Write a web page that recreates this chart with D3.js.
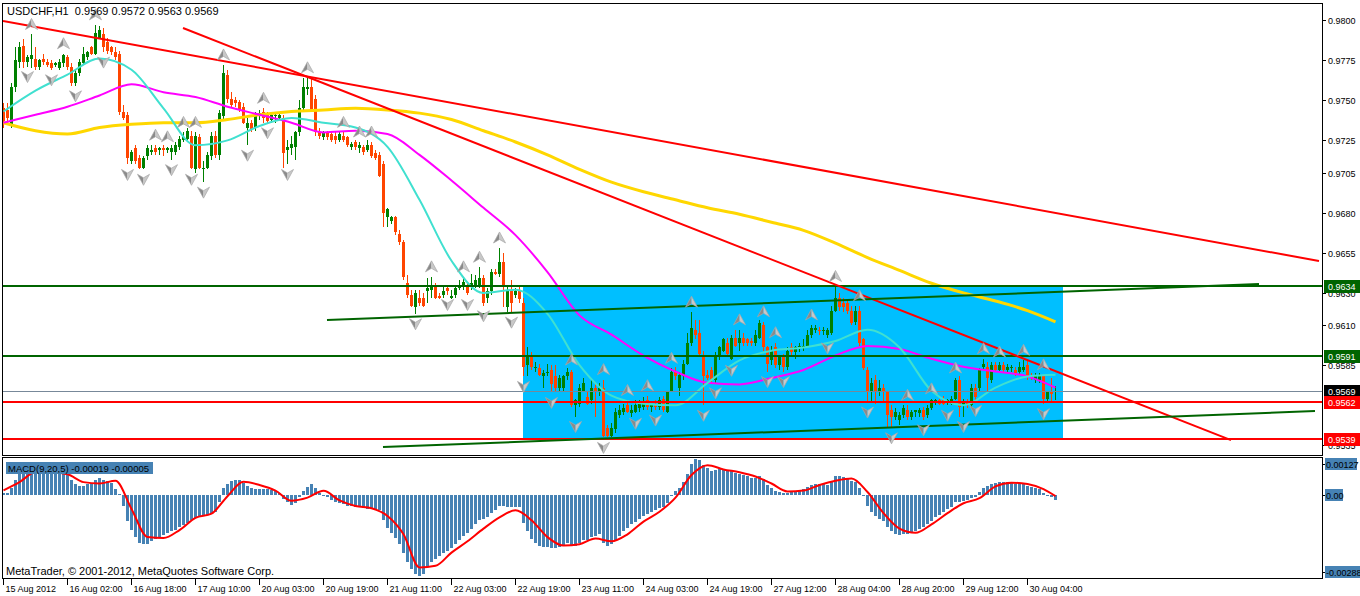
<!DOCTYPE html>
<html><head><meta charset="utf-8">
<script src="https://cdn.jsdelivr.net/npm/d3@7/dist/d3.min.js"></script>
<style>
body{margin:0;background:#fff;}
svg{display:block;font-family:"Liberation Sans",Arial,sans-serif;}
text{white-space:pre;}
</style></head><body>
<svg id="c" width="1360" height="596"></svg>
<script>
// ---------- DATA (prices in pips: 9745 = 0.9745) ----------
const open=[9745,9744,9735,9758,9774,9784,9774,9776,9776,9771,
9776,9774,9773,9772,9770,9773,9777,9771,9761,9767,
9773,9777,9783,9779,9789,9791,9786,9783,9780,9779,
9743,9741,9712,9720,9714,9708,9715,9718,9720,9719,
9720,9719,9718,9718,9721,9725,9726,9728,9707,9727,
9707,9708,9715,9728,9716,9740,9766,9751,9750,9749,
9746,9733,9736,9733,9740,9743,9741,9738,9740,9739,
9739,9719,9720,9721,9730,9745,9757,9758,9751,9730,
9727,9730,9729,9728,9725,9728,9727,9721,9724,9720,
9721,9719,9722,9717,9716,9710,9677,9675,9677,9667,
9662,9636,9629,9621,9627,9627,9631,9632,9635,9628,
9629,9633,9627,9629,9633,9634,9634,9634,9635,9635,
9639,9627,9631,9643,9642,9649,9621,9632,9629,9632,
9624,9585,9591,9583,9583,9578,9580,9582,9578,9571,
9571,9578,9581,9560,9561,9569,9565,9563,9571,9568,
9571,9546,9541,9545,9554,9556,9560,9555,9556,9558,
9559,9563,9559,9561,9559,9564,9556,9569,9581,9571,
9578,9586,9599,9607,9605,9591,9579,9582,9576,9590,
9594,9599,9589,9602,9599,9602,9601,9600,9599,9602,
9610,9596,9588,9596,9585,9590,9584,9596,9593,9596,
9596,9597,9604,9607,9607,9606,9604,9605,9619,9627,
9624,9624,9619,9612,9619,9601,9582,9569,9576,9569,
9571,9568,9557,9553,9551,9554,9557,9553,9556,9555,
9557,9554,9558,9562,9563,9564,9562,9561,9564,9576,
9560,9562,9560,9571,9571,9584,9584,9576,9585,9582,
9585,9582,9583,9582,9581,9582,9585,9578,9576,9576,
9578,9564,9569,9569];
const high=[9748,9748,9761,9783,9786,9788,9778,9791,9783,9776,
9779,9776,9775,9774,9776,9779,9778,9773,9769,9776,
9783,9781,9784,9797,9796,9795,9789,9784,9783,9781,
9747,9743,9719,9722,9716,9715,9722,9722,9722,9721,
9722,9721,9722,9724,9728,9730,9733,9731,9730,9729,
9712,9718,9730,9731,9744,9772,9769,9755,9752,9750,
9748,9739,9738,9743,9744,9745,9743,9742,9742,9743,
9741,9725,9728,9731,9750,9764,9764,9763,9753,9733,
9731,9731,9731,9730,9730,9730,9728,9724,9725,9724,
9722,9725,9724,9719,9718,9712,9683,9678,9678,9669,
9663,9641,9632,9632,9632,9630,9639,9640,9636,9630,
9635,9635,9632,9635,9638,9640,9636,9642,9641,9646,
9641,9633,9645,9645,9658,9655,9634,9638,9633,9634,
9627,9596,9593,9587,9586,9582,9586,9585,9585,9579,
9579,9583,9582,9564,9573,9577,9568,9576,9574,9574,
9576,9548,9549,9558,9560,9561,9563,9560,9563,9563,
9565,9566,9561,9563,9565,9566,9569,9583,9584,9581,
9588,9605,9618,9613,9613,9594,9582,9584,9593,9597,
9602,9602,9604,9607,9607,9605,9602,9602,9607,9613,
9612,9597,9597,9599,9591,9592,9596,9599,9597,9599,
9601,9607,9610,9610,9609,9609,9608,9622,9634,9630,
9627,9626,9622,9622,9622,9602,9584,9577,9579,9576,
9573,9569,9560,9558,9556,9560,9560,9557,9557,9558,
9559,9560,9564,9564,9564,9566,9564,9566,9577,9578,
9564,9564,9573,9573,9583,9589,9587,9587,9587,9587,
9587,9586,9585,9584,9587,9588,9588,9580,9580,9580,
9579,9569,9577,9572];
const low=[9733,9736,9733,9755,9770,9770,9771,9770,9769,9769,
9772,9771,9769,9771,9769,9771,9769,9759,9759,9765,
9772,9775,9778,9778,9788,9780,9779,9778,9775,9741,
9738,9710,9710,9710,9707,9707,9713,9716,9716,9716,
9715,9717,9713,9716,9719,9724,9725,9707,9705,9707,
9699,9707,9713,9714,9713,9738,9748,9745,9746,9743,
9735,9722,9730,9731,9738,9736,9736,9736,9736,9738,
9708,9710,9716,9713,9728,9744,9753,9743,9728,9726,
9725,9725,9724,9723,9724,9724,9721,9719,9719,9717,
9716,9718,9714,9713,9702,9671,9671,9673,9666,9660,
9638,9627,9621,9617,9622,9621,9624,9627,9626,9626,
9627,9629,9626,9627,9632,9632,9629,9632,9633,9633,
9622,9624,9629,9641,9640,9621,9618,9618,9627,9624,
9578,9578,9582,9581,9578,9571,9578,9568,9569,9569,
9568,9576,9559,9553,9559,9568,9560,9561,9553,9566,
9540,9540,9540,9543,9552,9554,9555,9553,9555,9556,
9557,9557,9556,9557,9557,9556,9555,9568,9576,9566,
9576,9585,9597,9601,9591,9560,9576,9573,9574,9588,
9593,9591,9588,9596,9594,9597,9597,9597,9597,9601,
9594,9581,9585,9583,9582,9581,9582,9591,9589,9593,
9594,9596,9602,9605,9604,9604,9602,9604,9618,9619,
9618,9617,9610,9610,9597,9582,9562,9562,9561,9566,
9562,9546,9546,9551,9548,9552,9551,9551,9553,9553,
9551,9552,9557,9560,9560,9560,9560,9560,9563,9553,
9553,9558,9559,9563,9569,9582,9568,9574,9581,9581,
9581,9581,9581,9578,9579,9581,9576,9576,9574,9574,
9561,9562,9562,9563];
const close=[9737,9739,9758,9775,9783,9774,9777,9778,9771,9775,
9774,9772,9770,9773,9774,9778,9771,9761,9767,9774,
9779,9780,9779,9792,9794,9783,9781,9780,9777,9743,
9739,9714,9718,9712,9708,9714,9720,9719,9718,9720,
9719,9720,9720,9722,9726,9727,9731,9708,9728,9708,
9708,9716,9728,9716,9742,9767,9751,9747,9748,9744,
9736,9736,9732,9741,9742,9739,9737,9741,9741,9741,
9717,9721,9723,9730,9745,9758,9758,9744,9730,9728,
9730,9727,9725,9725,9729,9725,9722,9723,9721,9722,
9718,9722,9715,9714,9703,9680,9682,9677,9668,9662,
9640,9629,9622,9630,9624,9622,9633,9635,9627,9627,
9631,9631,9628,9633,9635,9637,9630,9636,9638,9639,
9624,9631,9643,9642,9649,9635,9632,9624,9631,9626,
9584,9590,9584,9584,9579,9580,9581,9573,9571,9577,
9578,9581,9560,9563,9571,9574,9561,9571,9568,9571,
9541,9541,9546,9556,9557,9558,9556,9557,9560,9561,
9562,9559,9560,9559,9563,9557,9568,9581,9578,9579,
9586,9599,9608,9604,9592,9578,9577,9576,9591,9596,
9601,9592,9602,9597,9602,9599,9599,9599,9604,9611,
9596,9586,9594,9585,9590,9584,9594,9593,9596,9597,
9597,9604,9608,9608,9606,9607,9607,9619,9627,9621,
9621,9619,9611,9619,9599,9583,9569,9574,9569,9571,
9568,9554,9553,9556,9554,9558,9553,9556,9557,9557,
9553,9558,9563,9563,9561,9561,9563,9564,9576,9559,
9562,9560,9571,9565,9582,9586,9577,9585,9582,9585,
9582,9584,9584,9580,9584,9584,9578,9577,9578,9578,
9564,9568,9567,9569];

// moving averages, read every 8 bars
const maBars=[0,8,16,24,32,40,48,56,64,72,80,88,96,104,112,120,128,136,144,152,160,168,176,184,192,200,208,216,224,232,240,248,256,263];
const maFast=[9743,9756,9766,9776,9769,9745,9722,9725,9734,9739,9736,9733,9721,9688,9650,9630,9632,9617,9585,9566,9561,9560,9574,9588,9594,9596,9600,9607,9596,9569,9560,9571,9578,9579];
const maMid=[9736,9741,9746,9753,9760,9755,9752,9746,9741,9736,9730,9731,9729,9716,9700,9683,9666,9643,9616,9604,9591,9581,9574,9573,9577,9582,9591,9597,9595,9589,9584,9581,9578,9571];
const maSlow=[9736,9731,9729,9733,9735,9736,9736,9738,9741,9743,9744,9745,9744,9742,9738,9731,9724,9716,9707,9699,9693,9688,9683,9679,9674,9669,9661,9652,9644,9636,9630,9625,9619,9612];

// fractals (bar indices)
const fractalUp=[7,15,23,38,41,45,48,55,65,76,85,89,92,107,115,119,124,142,150,156,161,167,172,184,190,193,202,208,214,226,232,238,245,249,255,260];
const fractalDown=[6,12,18,25,31,35,42,47,50,61,66,71,103,111,116,120,127,130,137,143,150,158,163,175,178,182,191,195,206,216,222,230,236,240,243,260];

// MACD histogram (units of 0.00001), one per bar
const macd=[8,8,25,54,77,89,95,97,97,97,
95,92,89,85,83,77,72,54,37,31,
31,37,43,51,60,54,48,43,20,2,
-38,-92,-125,-150,-171,-176,-173,-165,-157,-150,
-142,-136,-130,-125,-115,-107,-99,-90,-84,-78,
-76,-73,-67,-61,-27,23,39,48,54,54,
43,31,23,20,20,20,20,16,14,8,
-15,-27,-35,-30,-9,14,28,39,23,8,
-3,-7,-18,-27,-30,-32,-38,-40,-42,-44,
-46,-50,-50,-53,-55,-90,-119,-136,-153,-176,
-205,-240,-263,-280,-288,-280,-257,-240,-228,-217,
-205,-200,-190,-175,-160,-145,-135,-120,-105,-90,
-85,-80,-65,-55,-40,-40,-45,-45,-42,-45,
-100,-130,-155,-170,-180,-185,-185,-190,-190,-185,
-180,-170,-180,-180,-170,-160,-160,-150,-145,-140,
-170,-180,-175,-160,-145,-130,-118,-105,-95,-85,
-75,-68,-60,-55,-48,-45,-30,0,15,25,
45,75,110,127,125,105,95,85,88,90,
92,85,85,78,75,70,65,60,60,65,
55,35,25,15,10,5,8,12,15,18,
20,28,35,38,38,38,36,50,65,65,
62,58,50,45,25,-5,-40,-60,-75,-85,
-92,-115,-130,-138,-142,-140,-140,-135,-128,-120,
-115,-105,-92,-80,-70,-60,-52,-45,-25,-25,
-22,-20,-10,-8,10,25,30,38,42,45,
45,45,43,40,38,38,32,28,25,22,
5,0,-8,-19];
// MACD signal, read every 4 bars (last = bar 263)
const signalBars=[0,4,8,12,16,20,24,28,32,36,40,44,48,52,56,60,64,68,72,76,80,84,88,92,96,100,104,108,112,116,120,124,128,132,136,140,144,148,152,156,160,164,168,172,176,180,184,188,192,196,200,204,208,212,216,220,224,228,232,236,240,244,248,252,256,260,263];
const signal=[16,45,80,80,73,45,40,50,-50,-150,-153,-125,-82,-67,-5,46,35,15,-21,-10,14,-20,-40,-48,-75,-140,-258,-252,-205,-165,-120,-80,-55,-90,-150,-180,-175,-155,-165,-140,-95,-60,-10,70,105,90,80,65,40,12,15,35,50,58,10,-65,-120,-135,-105,-65,-30,-12,30,43,38,20,-5];

// price axis ticks (0.9560 sits fully under the 0.9562 tag in the reference) and time labels
const priceTicks=[9800,9775,9750,9725,9705,9680,9655,9630,9610,9585,9535];
const timeLabels=["15 Aug 2012","16 Aug 02:00","16 Aug 18:00","17 Aug 10:00","20 Aug 03:00","20 Aug 19:00","21 Aug 11:00","22 Aug 03:00","22 Aug 19:00","23 Aug 11:00","24 Aug 03:00","24 Aug 19:00","27 Aug 12:00","28 Aug 04:00","28 Aug 20:00","29 Aug 12:00","30 Aug 04:00"];
const timeLabelBars=[0,16,32,48,64,80,96,112,128,144,160,176,192,208,224,240,256];

// objects
const hLevels=[9634,9591,9562,9539];
const hLevelKinds=["green","green","red","red"];
const bidPrice=9569;
const boxBars=[130,265], boxPrices=[9634,9539];
const trendLines=[ // [bar1, price1, bar2, price2, kind]
 [0,9799.4,329,9649.9,"red"],
 [45,9795.0,307,9538.3,"red"],
 [81,9613.1,314,9635.5,"green"],
 [95,9534.0,328,9556.4,"green"]];
const macdAxis=[127,0,-288];
const header="USDCHF,H1  0.9569 0.9572 0.9563 0.9569";
const macdTitle="MACD(9,20,5) -0.00019 -0.00005";

// ---------- DRAW ----------
const svg=d3.select('#c');
const X=d3.scaleLinear().domain([0,263]).range([3,1055]);
const Y=d3.scaleLinear().domain([9800,9539]).range([20,439]);
const M=d3.scaleLinear().domain([-288,127]).range([576,459]);
const GREEN="#006400", RED="#FF0000", BULL="#008000", BEAR="#FF4500";
const colorOf=k=>k==="green"?GREEN:RED;

const defs=svg.append('defs');
defs.append('clipPath').attr('id','cm').append('rect').attr('x',3).attr('y',4).attr('width',1319).attr('height',451);
defs.append('clipPath').attr('id','cd').append('rect').attr('x',3).attr('y',458).attr('width',1319).attr('height',120);

const main=svg.append('g').attr('clip-path','url(#cm)');

// rectangle object (background)
main.append('rect').attr('x',X(boxBars[0])).attr('y',Y(boxPrices[0]))
 .attr('width',X(boxBars[1])-X(boxBars[0])).attr('height',Y(boxPrices[1])-Y(boxPrices[0]))
 .attr('fill','#00BFFF');

// candles
const idx=d3.range(open.length);
const cg=main.append('g').attr('shape-rendering','crispEdges');
cg.selectAll('rect.w').data(idx).join('rect').attr('class','w')
 .attr('x',i=>X(i)).attr('width',1)
 .attr('y',i=>Y(high[i])).attr('height',i=>Math.max(1,Y(low[i])-Y(high[i])))
 .attr('fill',i=>close[i]>=open[i]?BULL:BEAR);
cg.selectAll('rect.b').data(idx).join('rect').attr('class','b')
 .attr('x',i=>X(i)-1).attr('width',3)
 .attr('y',i=>Y(Math.max(open[i],close[i])))
 .attr('height',i=>Math.max(1,Math.abs(Y(open[i])-Y(close[i]))))
 .attr('fill',i=>close[i]>=open[i]?BULL:BEAR);

// moving averages
const maLine=d3.line().x((d,k)=>X(maBars[k])+0.5).y(d=>Y(d)).curve(d3.curveMonotoneX);
main.append('path').attr('d',maLine(maSlow)).attr('fill','none').attr('stroke','#FFD700').attr('stroke-width',3);
main.append('path').attr('d',maLine(maMid)).attr('fill','none').attr('stroke','#FF00FF').attr('stroke-width',2);
main.append('path').attr('d',maLine(maFast)).attr('fill','none').attr('stroke','#40E0D0').attr('stroke-width',2);

// horizontal levels
main.append('line').attr('x1',3).attr('x2',1322).attr('y1',Math.round(Y(bidPrice))+0.5).attr('y2',Math.round(Y(bidPrice))+0.5)
 .attr('stroke','#778899').attr('stroke-width',1);
hLevels.forEach((p,k)=>{
 main.append('line').attr('x1',3).attr('x2',1322).attr('y1',Math.round(Y(p))).attr('y2',Math.round(Y(p)))
  .attr('stroke',colorOf(hLevelKinds[k])).attr('stroke-width',2);
});

// trend lines
trendLines.forEach(t=>{
 main.append('line').attr('x1',X(t[0])).attr('y1',Y(t[1])).attr('x2',X(t[2])).attr('y2',Y(t[3]))
  .attr('stroke',colorOf(t[4])).attr('stroke-width',2);
});

// fractals
const fg=main.append('g');
fractalUp.forEach(i=>{
 const g=fg.append('g').attr('transform',`translate(${X(i)+0.5},${Y(high[i])-10})`);
 g.append('path').attr('d','M0,-6L0,1.5L-6,5Z').attr('fill','#8a8a8a');
 g.append('path').attr('d','M0,-6L6,5L0,1.5Z').attr('fill','#c8c8c8');
 g.append('path').attr('d','M0,-6L6,5L0,1.5L-6,5Z').attr('fill','none').attr('stroke','#a8a8a8').attr('stroke-width',0.7);
});
fractalDown.forEach(i=>{
 const g=fg.append('g').attr('transform',`translate(${X(i)+0.5},${Y(low[i])+10})`);
 g.append('path').attr('d','M0,6L0,-1.5L-6,-5Z').attr('fill','#8a8a8a');
 g.append('path').attr('d','M0,6L6,-5L0,-1.5Z').attr('fill','#c8c8c8');
 g.append('path').attr('d','M0,6L6,-5L0,-1.5L-6,-5Z').attr('fill','none').attr('stroke','#a8a8a8').attr('stroke-width',0.7);
});

// header
svg.append('text').attr('x',7).attr('y',15).attr('font-size',11).attr('fill','#000').text(header);

// frames
svg.append('rect').attr('x',2.5).attr('y',3.5).attr('width',1320).attr('height',452).attr('fill','none').attr('stroke','#000');
svg.append('rect').attr('x',2.5).attr('y',457.5).attr('width',1320).attr('height',121).attr('fill','none').attr('stroke','#000');

// price axis
const ax=svg.append('g');
priceTicks.forEach(p=>{
 const yy=Math.round(Y(p))+0.5;
 ax.append('line').attr('x1',1323).attr('x2',1326).attr('y1',yy).attr('y2',yy).attr('stroke','#000');
 ax.append('text').attr('x',1328).attr('y',yy+3.5).attr('font-size',9).text((p/10000).toFixed(4));
});
const tags=[[9634,GREEN,'#fff'],[9591,GREEN,'#fff'],[bidPrice,'#000','#fff'],[9562,RED,'#fff'],[9539,RED,'#fff']];
tags.forEach(t=>{
 const yy=Y(t[0]);
 ax.append('rect').attr('x',1324).attr('y',Math.round(yy)-6).attr('width',36).attr('height',13).attr('fill',t[1]);
 ax.append('text').attr('x',1328).attr('y',Math.round(yy)+4).attr('font-size',9).attr('fill',t[2]).text((t[0]/10000).toFixed(4));
});

// MACD panel
const md=svg.append('g').attr('clip-path','url(#cd)');
md.append('g').attr('shape-rendering','crispEdges').selectAll('rect').data(idx).join('rect')
 .attr('x',i=>X(i)-1).attr('width',3)
 .attr('y',i=>Math.min(M(0),M(macd[i]))).attr('height',i=>Math.max(1,Math.abs(M(macd[i])-M(0))))
 .attr('fill','#4682B4');
const sigLine=d3.line().x((d,k)=>X(signalBars[k])+0.5).y(d=>M(d)).curve(d3.curveMonotoneX);
md.append('path').attr('d',sigLine(signal)).attr('fill','none').attr('stroke',RED).attr('stroke-width',2);
md.append('rect').attr('x',6).attr('y',462).attr('width',147).attr('height',12).attr('fill','#4682B4');
md.append('text').attr('x',8).attr('y',471.5).attr('font-size',9.5).attr('fill','#000').text(macdTitle);
svg.append('text').attr('x',6).attr('y',575).attr('font-size',11).attr('fill','#000').text('MetaTrader, \u00A9 2001-2012, MetaQuotes Software Corp.');

const mLabelY=[464,Math.round(M(0)),572];
macdAxis.forEach((v,k)=>{
 const t=v===0?'0.00':(v/100000).toFixed(5);
 const yy=mLabelY[k];
 ax.append('line').attr('x1',1323).attr('x2',1326).attr('y1',yy+0.5).attr('y2',yy+0.5).attr('stroke','#000');
 const w=v<0?36:(v===0?18:32);
 ax.append('rect').attr('x',1325).attr('y',yy-6).attr('width',w).attr('height',12).attr('fill','#4682B4');
 ax.append('text').attr('x',1326).attr('y',yy+3.5).attr('font-size',9).attr('fill','#000').text(t);
});

// time axis
timeLabelBars.forEach((b,k)=>{
 const xx=Math.round(X(b))+0.5;
 svg.append('line').attr('x1',xx).attr('x2',xx).attr('y1',579).attr('y2',585).attr('stroke','#000');
 svg.append('text').attr('x',xx+2).attr('y',592).attr('font-size',9).text(timeLabels[k]);
});
</script>
</body></html>
